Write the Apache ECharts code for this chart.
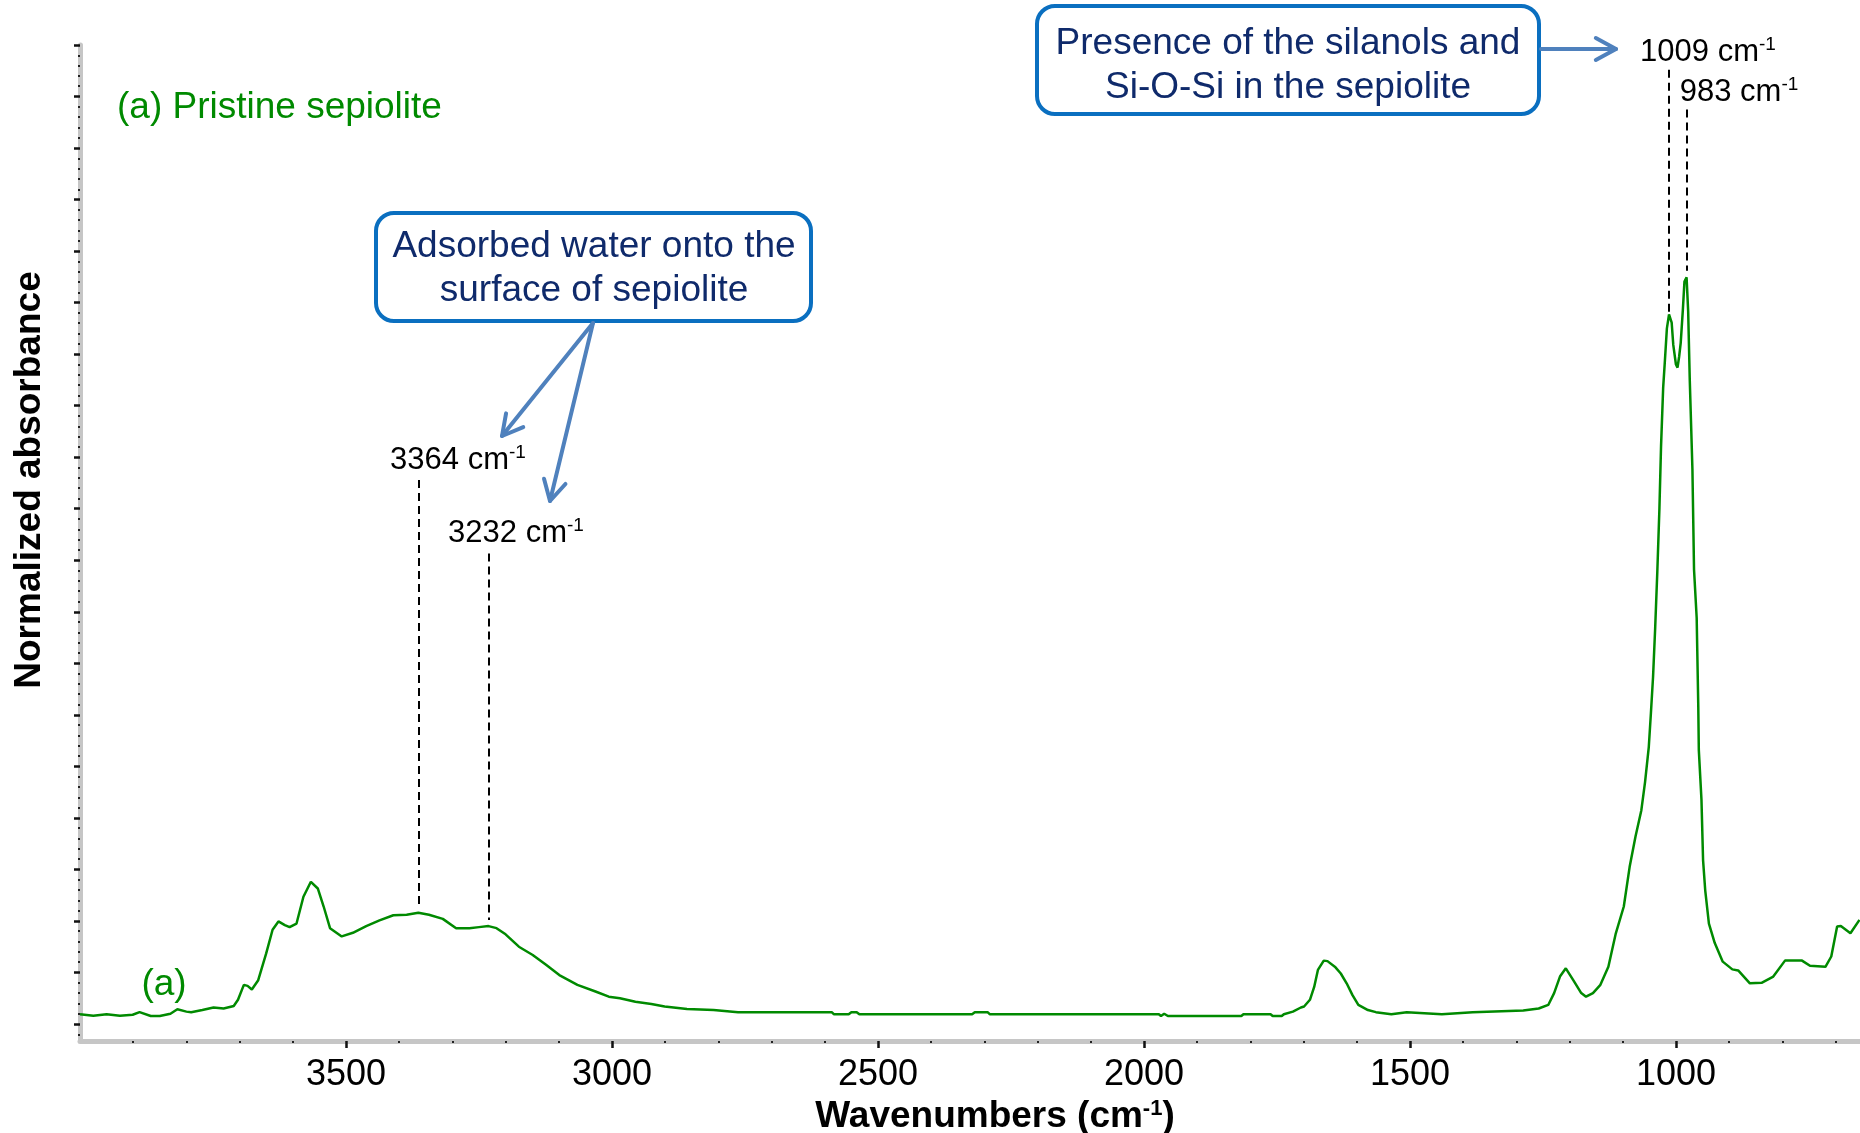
<!DOCTYPE html>
<html><head><meta charset="utf-8">
<script src="https://cdn.jsdelivr.net/npm/echarts@6/dist/echarts.min.js"></script>
<style>html,body{margin:0;padding:0;background:#fff}#c{width:1860px;height:1133px}</style>
</head><body><div id="c"></div>
<script>
// ---- data ----
const wavenumbers = [4000,3975,3950,3925,3901,3888,3867,3850,3830,3817,3800,3791,3770,3749,3730,3711,3703,3692,3685,3677,3665,3650,3638,3627,3615,3606,3593,3580,3566,3553,3542,3530,3508,3487,3462,3437,3411,3386,3364,3344,3318,3293,3268,3250,3232,3217,3200,3175,3149,3124,3099,3065,3031,3006,2985,2956,2926,2901,2859,2809,2763,2587,2583,2555,2550,2540,2535,2323,2318,2294,2290,1972,1968,1962,1955,1817,1813,1762,1758,1741,1737,1720,1705,1699,1688,1680,1673,1662,1655,1640,1630,1619,1608,1597,1579,1564,1535,1506,1440,1382,1287,1258,1240,1229,1218,1207,1193,1178,1169,1156,1142,1127,1113,1098,1087,1076,1065,1058,1051,1047,1043,1039,1035,1031,1028,1024,1021,1017,1013,1008,1005,1000,997,994,991,987,984,980,977,974,969,966,961,958,957,952,949,945,938,927,912,894,883,861,839,817,795,763,748,719,708,697,690,672,655];
const absorbance = [1.19,1.16,1.19,1.16,1.18,1.23,1.155,1.155,1.2,1.285,1.24,1.227,1.27,1.32,1.3,1.35,1.47,1.76,1.74,1.67,1.85,2.37,2.83,2.99,2.92,2.88,2.95,3.47,3.76,3.63,3.28,2.86,2.70,2.77,2.90,3.01,3.11,3.12,3.16,3.12,3.04,2.86,2.86,2.88,2.90,2.86,2.74,2.50,2.34,2.15,1.95,1.76,1.63,1.53,1.50,1.43,1.39,1.34,1.29,1.27,1.23,1.23,1.19,1.19,1.23,1.23,1.19,1.19,1.23,1.23,1.19,1.19,1.155,1.2,1.155,1.155,1.19,1.19,1.155,1.155,1.19,1.24,1.32,1.34,1.47,1.72,2.05,2.23,2.22,2.1,1.98,1.79,1.56,1.37,1.27,1.23,1.19,1.23,1.19,1.23,1.26,1.30,1.37,1.60,1.92,2.08,1.85,1.60,1.53,1.60,1.76,2.11,2.76,3.28,4.05,4.64,5.15,5.7,6.38,7.04,7.74,8.69,9.78,11.02,12.21,13.35,13.83,14.50,14.77,14.61,14.18,13.80,13.74,13.95,14.22,14.86,15.41,15.49,14.83,13.50,11.76,9.82,8.88,7.16,6.32,5.35,4.18,3.60,2.95,2.57,2.21,2.06,2.04,1.79,1.80,1.92,2.23,2.23,2.13,2.11,2.31,2.89,2.90,2.76,3.02];

const xMajorTicks = [1000,1500,2000,2500,3000,3500];
const xMinorTicks = [700,800,900,1100,1200,1300,1400,1600,1700,1800,1900,2100,2200,2300,2400,2600,2700,2800,2900,3100,3200,3300,3400,3600,3700,3800,3900];
const yMajorTicks = [1,2,3,4,5,6,7,8,9,10,11,12,13,14,15,16,17,18,19,20];
const yMinorTicks = [0.8,1.2,1.4,1.6,1.8,2.2,2.4,2.6,2.8,3.2,3.4,3.6,3.8,4.2,4.4,4.6,4.8,5.2,5.4,5.6,5.8,6.2,6.4,6.6,6.8,7.2,7.4,7.6,7.8,8.2,8.4,8.6,8.8,9.2,9.4,9.6,9.8,10.2,10.4,10.6,10.8,11.2,11.4,11.6,11.8,12.2,12.4,12.6,12.8,13.2,13.4,13.6,13.8,14.2,14.4,14.6,14.8,15.2,15.4,15.6,15.8,16.2,16.4,16.6,16.8,17.2,17.4,17.6,17.8,18.2,18.4,18.6,18.8,19.2,19.4,19.6,19.8];

const peakLineW = [3364, 3232, 1013, 980];
const peakLineTop = [11.56, 10.13, 19.52, 18.75];
const peakLineBottom = [3.25, 3.02, 14.81, 15.62];
const peakLabelText = ['3364', '3232', '1009', '983'];

const xRange = [654, 4000];
const yRange = [0.67, 20];

// ---- styles ----
const FONT = '"Liberation Sans", Arial, sans-serif';
const GREEN = '#008a00';
const NAVY = '#0f2a6b';
const BOX = '#0a6fc0';
const ARROW = '#4f81bd';
const AXIS_GRAY = '#c6c6c6';

const chart = echarts.init(document.getElementById('c'), null, {renderer: 'canvas'});

function arrowHead(x1, y1, x2, y2, len, ang) {
  const a = Math.atan2(y1 - y2, x1 - x2);
  return [[x2 + len * Math.cos(a + ang), y2 + len * Math.sin(a + ang)], [x2, y2], [x2 + len * Math.cos(a - ang), y2 + len * Math.sin(a - ang)]];
}
function arrow(x1, y1, x2, y2) {
  return [
    {type: 'line', silent: true, shape: {x1, y1, x2, y2}, style: {stroke: ARROW, lineWidth: 4, lineCap: 'round'}},
    {type: 'polyline', silent: true, shape: {points: arrowHead(x1, y1, x2, y2, 23, 0.5)}, style: {stroke: ARROW, lineWidth: 4, fill: null, lineCap: 'round', lineJoin: 'round'}}
  ];
}
function peakLabel(txt, cx, cy) {
  return {type: 'text', silent: true, x: cx, y: cy, style: {
    text: '{n|' + txt + ' cm}{s|-1}', align: 'center', verticalAlign: 'middle',
    rich: {n: {fontSize: 31, fontFamily: FONT, fill: '#000', lineHeight: 34},
           s: {fontSize: 19, fontFamily: FONT, fill: '#000', verticalAlign: 'top', lineHeight: 19}}
  }};
}
const labelPos = [[458, 460], [516, 533], [1708, 52], [1739, 92]];

const graphics = [
  // box 1
  {type: 'rect', silent: true, shape: {x: 376, y: 213, width: 435, height: 108, r: 18}, style: {fill: '#fff', stroke: BOX, lineWidth: 4}},
  {type: 'text', silent: true, x: 594, y: 269, style: {text: 'Adsorbed water onto the\nsurface of sepiolite', align: 'center', verticalAlign: 'middle', fontSize: 37, lineHeight: 44, fontFamily: FONT, fill: NAVY}},
  // box 2
  {type: 'rect', silent: true, shape: {x: 1037, y: 6, width: 502, height: 108, r: 18}, style: {fill: '#fff', stroke: BOX, lineWidth: 4}},
  {type: 'text', silent: true, x: 1288, y: 66, style: {text: 'Presence of the silanols and\nSi-O-Si in the sepiolite', align: 'center', verticalAlign: 'middle', fontSize: 37, lineHeight: 44, fontFamily: FONT, fill: NAVY}},
  ...arrow(593, 323, 502, 436),
  ...arrow(593, 323, 550, 501),
  ...arrow(1541, 49, 1616, 49),
  // green sample labels
  {type: 'text', silent: true, x: 117, y: 108, style: {text: '(a) Pristine sepiolite', align: 'left', verticalAlign: 'middle', fontSize: 37, fontFamily: FONT, fill: GREEN}},
  {type: 'text', silent: true, x: 164, y: 985, style: {text: '(a)', align: 'center', verticalAlign: 'middle', fontSize: 37, fontFamily: FONT, fill: GREEN}},
  // y axis title
  {type: 'text', silent: true, x: 30, y: 480, rotation: Math.PI / 2, style: {text: 'Normalized absorbance', align: 'center', verticalAlign: 'middle', fontSize: 37, fontWeight: 'bold', fontFamily: FONT, fill: '#000'}}
];
peakLabelText.forEach((t, i) => graphics.push(peakLabel(t, labelPos[i][0], labelPos[i][1])));

const option = {
  animation: false,
  backgroundColor: '#fff',
  grid: {left: 80, right: 0, top: 45, bottom: 92, containLabel: false, outerBoundsMode: 'none'},
  xAxis: [
    {
      type: 'value', inverse: true, min: xRange[0], max: xRange[1], position: 'bottom',
      axisLine: {show: true, onZero: false, lineStyle: {color: AXIS_GRAY, width: 5}},
      axisTick: {show: true, customValues: xMajorTicks, length: 7, lineStyle: {color: '#111', width: 2.5}},
      axisLabel: {show: true, customValues: xMajorTicks, margin: 16, fontSize: 36, fontFamily: FONT, color: '#000',
        formatter: v => String(v)},
      splitLine: {show: false},
      name: 'Wavenumbers (cm{s|-1})', nameLocation: 'middle', nameGap: 54,
      nameTextStyle: {fontSize: 37, fontWeight: 'bold', fontFamily: FONT, color: '#000', padding: [0, 0, 0, 50],
        rich: {s: {fontSize: 22, fontWeight: 'bold', fontFamily: FONT, color: '#000', verticalAlign: 'top', lineHeight: 22}}}
    },
    {
      type: 'value', inverse: true, min: xRange[0], max: xRange[1], position: 'bottom',
      axisLine: {show: false, onZero: false},
      axisTick: {show: true, customValues: xMinorTicks, length: 2, lineStyle: {color: '#222', width: 2}},
      axisLabel: {show: false}, splitLine: {show: false}
    }
  ],
  yAxis: [
    {
      type: 'value', min: yRange[0], max: yRange[1], position: 'left',
      axisLine: {show: true, onZero: false, lineStyle: {color: AXIS_GRAY, width: 5}},
      axisTick: {show: true, customValues: yMajorTicks, length: 6, lineStyle: {color: '#111', width: 2.5}},
      axisLabel: {show: false}, splitLine: {show: false}
    },
    {
      type: 'value', min: yRange[0], max: yRange[1], position: 'left',
      axisLine: {show: false, onZero: false},
      axisTick: {show: true, customValues: yMinorTicks, length: 2, lineStyle: {color: '#222', width: 2}},
      axisLabel: {show: false}, splitLine: {show: false}
    }
  ],
  series: [{
    type: 'line', xAxisIndex: 0, yAxisIndex: 0, showSymbol: false, symbol: 'none',
    data: wavenumbers.map((w, i) => [w, absorbance[i]]),
    lineStyle: {color: GREEN, width: 2.5}, z: 3,
    markLine: {
      silent: true, symbol: ['none', 'none'], animation: false,
      label: {show: false},
      lineStyle: {type: [8, 5], color: '#000', width: 2},
      data: peakLineW.map((w, i) => [{coord: [w, peakLineTop[i]]}, {coord: [w, peakLineBottom[i]]}])
    }
  }],
  graphic: graphics
};
chart.setOption(option);
</script>
</body></html>
